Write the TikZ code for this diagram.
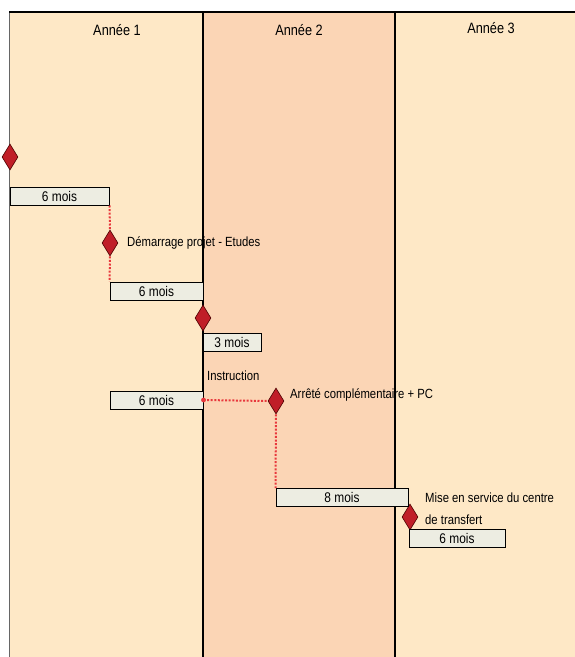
\documentclass[tikz,border=0pt]{standalone}
\usepackage{fontspec}
\setmainfont{Liberation Sans}[FakeStretch=0.85]
\usepackage{tikz}
\usetikzlibrary{shapes.geometric}

\definecolor{anneeA}{HTML}{FEE8C6}
\definecolor{anneeB}{HTML}{FBD5B5}
\definecolor{barre}{HTML}{EDEDE2}
\definecolor{jalon}{HTML}{C01E28}
\definecolor{lien}{HTML}{E8383D}

\begin{document}
\begin{tikzpicture}[x=1pt,y=-1pt,
  every node/.style={font=\fontsize{13.3}{15}\selectfont},
  titre/.style={font=\fontsize{15}{17}\selectfont},
  duree/.style={draw=black,line width=1pt,fill=barre,minimum height=18pt,inner sep=0pt,font=\fontsize{14}{16}\selectfont},
  jalonbox/.style={diamond,draw=black!70!red,line width=0.6pt,fill=jalon,minimum width=16pt,minimum height=26pt,inner sep=0pt},
  legende/.style={anchor=west,inner sep=0pt},
  pointille/.style={draw=lien,line width=2pt,dash pattern=on 2pt off 1.6pt}]
  \useasboundingbox (0,0) rectangle (575,657);

  % colonnes des annees
  \fill[anneeA] (9,12) rectangle (203,657);
  \fill[anneeB] (203,12) rectangle (395,657);
  \fill[anneeA] (395,12) rectangle (575,657);
  \draw[black!60,line width=1pt] (9,12) -- (9,657);
  \draw[line width=1.5pt] (9,12) -- (575,12);
  \draw[line width=2pt] (203,12) -- (203,657);
  \draw[line width=2pt] (395,12) -- (395,657);

  \node[titre] (tA) at (117,30) {Année 1};
  \node[titre] (tB) at (299,30) {Année 2};
  \node[titre] (tC) at (491,28) {Année 3};

  % jalons
  \node[jalonbox] (j0) at (10,157) {};
  \node[jalonbox] (j1) at (110,243) {};
  \node[jalonbox] (j2) at (203,318) {};
  \node[jalonbox] (j3) at (276,401) {};
  \node[jalonbox] (j4) at (410,517) {};

  % durees
  \node[duree,minimum width=99pt] (b1) at (59.5,196) {6 mois};
  \node[duree,minimum width=93pt] (b2) at (156.5,291) {6 mois};
  \node[duree,minimum width=58pt] (b3) at (232,342) {3 mois};
  \node[duree,minimum width=93pt] (b4) at (156.5,400) {6 mois};
  \node[duree,minimum width=132pt] (b5) at (342,497.5) {8 mois};
  \node[duree,minimum width=96pt] (b6) at (457,538) {6 mois};

  % legendes
  \node[legende] (l1) at (127,243) {Démarrage projet - Etudes};
  \node[legende] (l2) at (207,376) {Instruction};
  \node[legende] (l3) at (290,395) {Arrêté complémentaire + PC};
  \node[legende] (l4) at (425,498) {Mise en service du centre};
  \node[legende] (l5) at (425,520) {de transfert};

  % liens
  \path[pointille]
        (b1.south east) edge (j1.north)
        (j1.south) edge (b2.north west)
        (b4.east) edge (j3.west)
        (j3.south) edge (b5.north west);
  \fill[lien] (b4.east) circle (2.4pt);
\end{tikzpicture}
\end{document}
